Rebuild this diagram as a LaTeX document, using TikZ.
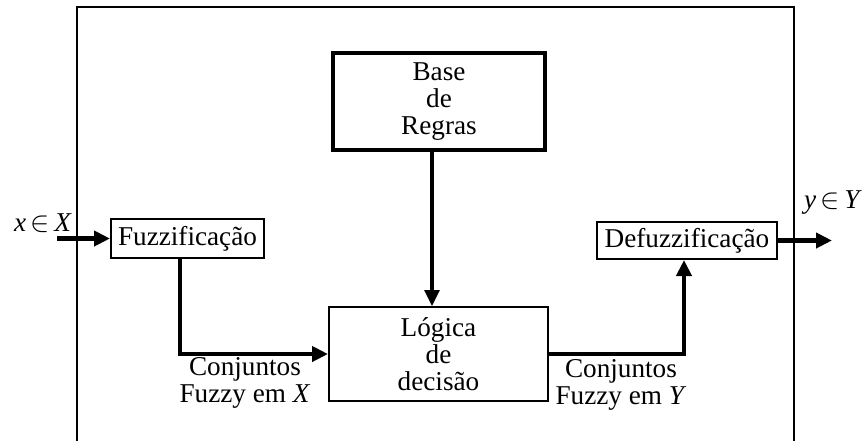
\documentclass[tikz,border=0pt]{standalone}
\usepackage{fontspec}
\setmainfont{Liberation Serif}
\usetikzlibrary{arrows.meta}
\begin{document}
\begin{tikzpicture}[x=0.5pt,y=-0.5pt,
  txt/.style={font=\fontsize{13.6}{13.6}\selectfont, align=center, inner sep=0pt},
  blk/.style={draw, line width=1pt, txt, minimum width=#1},
  thickarrow/.style={line width=2.4pt, -{Triangle[length=8pt,width=7.5pt]}},
  midarrow/.style={line width=1.6pt, -{Triangle[length=8pt,width=7.5pt]}},
  frame/.style={line width=1.4pt}]
\useasboundingbox (0,0) rectangle (864,441);
\draw[frame] (77,441) -- (77,7) -- (794,7) -- (794,441);
\node[blk=76.5pt, minimum height=19.5pt] (fuzz) at (187.5,238.5) {Fuzzifica\c{c}\~ao};
\node[blk=90pt, minimum height=18.5pt] (defuzz) at (687,240.5) {Defuzzifica\c{c}\~ao};
\node[blk=106pt, minimum height=48.5pt, line width=2pt] (base) at (439,101.5) {Base\\de\\Regras};
\node[blk=109.5pt, minimum height=47pt] (logica) at (438.5,354) {L\'ogica\\de\\decis\~ao};
\coordinate (cx) at (432,0);
\coordinate (fx) at (180,0);
\coordinate (dx) at (684,0);
\coordinate (in) at (57,238.5);
\coordinate (out) at (832,240.5);
\draw[thickarrow] (in) -- (fuzz.west);
\draw[thickarrow] (defuzz.east) -- (out);
\draw[midarrow] (base.south -| cx) -- (logica.north -| cx);
\draw[thickarrow] (fuzz.south -| fx) |- (logica.west);
\draw[thickarrow] (logica.east) -| (defuzz.south -| dx);
\node[txt] (lx) at (245,383) {Conjuntos\\Fuzzy em \textit{X}};
\node[txt] (ly) at (621,385) {Conjuntos\\Fuzzy em \textit{Y}};
\node[txt] (ix) at (43,223) {\textit{x}\,$\in$\,\textit{X}};
\node[txt] (oy) at (833,203) {\textit{y}\,$\in$\,\textit{Y}};
\end{tikzpicture}
\end{document}
